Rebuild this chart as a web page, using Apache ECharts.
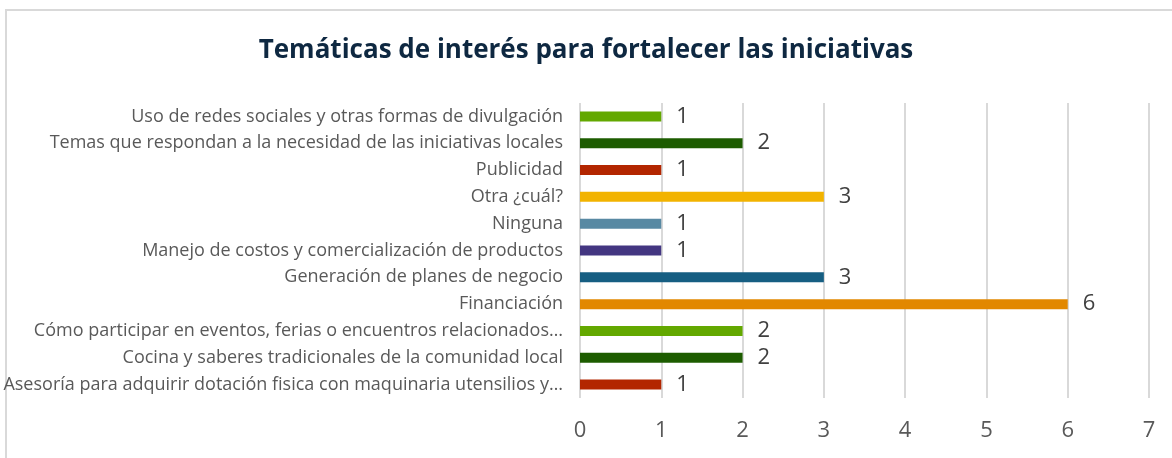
<!DOCTYPE html>
<html>
<head>
<meta charset="utf-8">
<script src="https://cdn.jsdelivr.net/npm/echarts@6/dist/echarts.min.js"></script>
<style>
	html, body { margin: 0; padding: 0; background: #fff; }
	#chart { width: 1172px; height: 458px; }
</style>
</head>
<body>
<div id="chart"></div>
<script>
// categories from top to bottom
var categories = [
	"Uso de redes sociales y otras formas de divulgación",
	"Temas que respondan a la necesidad de las iniciativas locales",
	"Publicidad",
	"Otra ¿cuál?",
	"Ninguna",
	"Manejo de costos y comercialización de productos",
	"Generación de planes de negocio",
	"Financiación",
	"Cómo participar en eventos, ferias o encuentros relacionados…",
	"Cocina y saberes tradicionales de la comunidad local",
	"Asesoría para adquirir dotación fisica con maquinaria utensilios y…"
];
var values = [1, 2, 1, 3, 1, 1, 3, 6, 2, 2, 1];
var barColors = ["#63a800", "#1d5c00", "#b32600", "#f2b300", "#5889a3", "#433681",
	"#165e82", "#e28800", "#63a800", "#1d5c00", "#b32600"];
var xTicks = [0, 1, 2, 3, 4, 5, 6, 7];

var chart = echarts.init(document.getElementById("chart"));

var barData = values.map(function(v, i){
	return {value: v, itemStyle: {color: barColors[i]}};
});

chart.setOption({
	backgroundColor: "#fff",
	animation: false,
	title: {
		text: "Temáticas de interés para fortalecer las iniciativas",
		left: "center",
		top: 33,
		textStyle: {
			fontFamily: "Open Sans",
			fontWeight: "bold",
			fontSize: 26,
			color: "#0e2841"
		}
	},
	graphic: [{
		type: "polyline",
		shape: {points: [[6, 458], [6, 10], [1172, 10]]},
		style: {stroke: "#d9d9d9", lineWidth: 2, fill: null},
		silent: true
	}],
	grid: {left: 580, right: 23, top: 103, bottom: 60, containLabel: false},
	xAxis: {
		type: "value",
		min: xTicks[0],
		max: xTicks[xTicks.length - 1],
		interval: 1,
		axisLine: {show: false},
		axisTick: {show: false},
		axisLabel: {
			margin: 22,
			fontFamily: "Open Sans",
			fontSize: 22,
			color: "#595959"
		},
		splitLine: {lineStyle: {color: "#d9d9d9", width: 2}}
	},
	yAxis: {
		type: "category",
		inverse: true,
		data: categories,
		axisLine: {show: false},
		axisTick: {show: false},
		axisLabel: {
			margin: 17,
			fontFamily: "Open Sans",
			fontSize: 18,
			color: "#595959"
		}
	},
	series: [{
		type: "bar",
		data: barData,
		barWidth: 10,
		label: {
			show: true,
			position: "right",
			distance: 15,
			fontFamily: "Open Sans",
			fontSize: 22,
			color: "#404040"
		}
	}]
});
</script>
</body>
</html>
